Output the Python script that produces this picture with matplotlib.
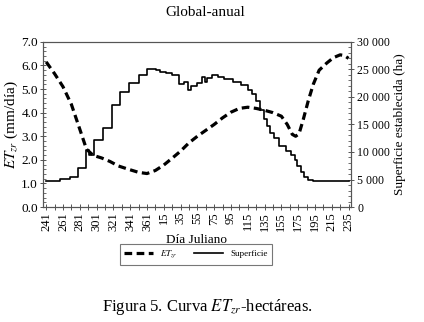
import matplotlib
matplotlib.use("Agg")
import matplotlib.pyplot as plt
from matplotlib.ticker import MultipleLocator, FixedLocator
from matplotlib.lines import Line2D

plt.rcParams['font.family'] = ['Liberation Serif', 'DejaVu Serif']
plt.rcParams['mathtext.fontset'] = 'stix'

# Tick labels (Julian day), one every 20 positions along the season
day_labels = ["241", "261", "281", "301", "321", "341", "361", "15", "35", "55",
              "75", "95", "115", "135", "155", "175", "195", "215", "235"]

# ET_zr (mm/día) — position index along season (0 = día 241)
et_idx = [0, 10, 20, 30, 40, 48, 56, 66, 76, 86, 98, 110, 120, 130, 140, 150,
          160, 170, 180, 190, 200, 210, 220, 230, 240, 250, 260, 270, 280,
          287, 293, 297, 301, 306, 312, 318, 325, 334, 342, 350, 355, 360]
et_val = [6.15, 5.65, 5.1, 4.35, 3.3, 2.45, 2.19, 2.08, 1.93, 1.74, 1.6, 1.47,
          1.42, 1.55, 1.78, 2.07, 2.37, 2.72, 3.0, 3.25, 3.5, 3.78, 4.02, 4.18,
          4.23, 4.18, 4.1, 4.0, 3.85, 3.5, 3.08, 3.0, 3.1, 3.7, 4.5, 5.2, 5.8,
          6.1, 6.33, 6.45, 6.42, 6.3]

# Superficie establecida (ha), step series
sup_idx = [0, 16, 28, 38, 47, 51, 57, 68, 78, 88, 99, 110, 120, 131, 136, 143,
           150, 158, 164, 169, 173, 180, 185, 189, 192, 198, 205, 212, 222, 232,
           240, 245, 250, 255, 259, 263, 267, 271, 277, 285, 292, 296, 299, 303,
           307, 312, 318, 360]
sup_val = [4780, 5030, 5510, 7150, 10360, 9450, 12180, 14300, 18550, 20960,
           22500, 24000, 25100, 24900, 24500, 24300, 24000, 22300, 22700, 21300,
           22000, 22500, 23600, 22800, 23500, 24000, 23600, 23300, 22800, 22100,
           21300, 20600, 19200, 17700, 16000, 14800, 13500, 12500, 11000, 10200,
           9500, 8500, 7400, 6300, 5500, 5000, 4700, 4700]

right_ticks = [0, 5000, 10000, 15000, 20000, 25000, 30000]
right_labels = ["0", "5 000", "10 000", "15 000", "20 000", "25 000", "30 000"]

fig = plt.figure(figsize=(4.24, 3.22), dpi=100)
ax = fig.add_axes([0.101, 0.357, 0.727, 0.513])
ax2 = ax.twinx()

spine_c = '#555555'

ax.plot(et_idx, et_val, color='black', lw=2.3, linestyle=(0, (2.4, 1.4)),
        dash_capstyle='butt', zorder=3)
ax2.plot(sup_idx, sup_val, color='black', lw=1.2, drawstyle='steps-post')

ax.set_xlim(-4, 363)
ax.set_ylim(0, 7)
ax2.set_ylim(0, 30000)

ax.xaxis.set_major_locator(FixedLocator(list(range(0, 361, 20))))
ax.set_xticklabels(day_labels, rotation=90, fontsize=9)
ax.xaxis.set_minor_locator(FixedLocator(list(range(10, 361, 20))))
ax.tick_params(axis='x', which='both', direction='inout', length=5, width=0.7,
               color=spine_c, pad=1)

ax.set_yticks([float(v) for v in range(0, 8)])
ax.set_yticklabels([f"{v:.1f}" for v in range(0, 8)], fontsize=9.5)
ax.yaxis.set_minor_locator(MultipleLocator(0.2))
ax.tick_params(axis='y', which='major', direction='inout', length=5, width=0.7,
               color=spine_c, pad=1)
ax.tick_params(axis='y', which='minor', direction='in', length=2.5, width=0.6,
               color=spine_c)

ax2.set_yticks(right_ticks)
ax2.set_yticklabels(right_labels, fontsize=8.5)
ax2.yaxis.set_minor_locator(MultipleLocator(1000))
ax2.tick_params(axis='y', which='major', direction='inout', length=5, width=0.7,
                color=spine_c, pad=2)
ax2.tick_params(axis='y', which='minor', direction='in', length=2.5, width=0.6,
                color=spine_c)

for a in (ax, ax2):
    for s in a.spines.values():
        s.set_color(spine_c)
        s.set_linewidth(0.8)

ax.set_ylabel(r"$ET_{zr}$ (mm/día)", fontsize=11, labelpad=1)
ax2.set_ylabel("Superficie establecida (ha)", fontsize=9.5, labelpad=3)
ax.set_xlabel("Día Juliano", fontsize=9.5, labelpad=2)

fig.text(0.485, 0.962, "Global-anual", ha='center', va='center', fontsize=11)

h1 = Line2D([], [], color='black', lw=2.3, linestyle=(0, (2.4, 1.4)))
h2 = Line2D([], [], color='black', lw=1.2)
leg = fig.legend([h1, h2], [r"$ET_{zr}$", "Superficie"], loc='center',
                 bbox_to_anchor=(0.462, 0.21), ncol=2, fontsize=6.5,
                 frameon=True, fancybox=False, edgecolor='#555555',
                 handlelength=3.2, columnspacing=1.8, borderpad=0.5,
                 handletextpad=0.8)
leg.get_frame().set_linewidth(0.8)

fig.text(0.49, 0.047, r"Figura 5. Curva $ET_{zr}$-hectáreas.", ha='center',
         va='center', fontsize=12)

fig.savefig("out.png", dpi=100)
